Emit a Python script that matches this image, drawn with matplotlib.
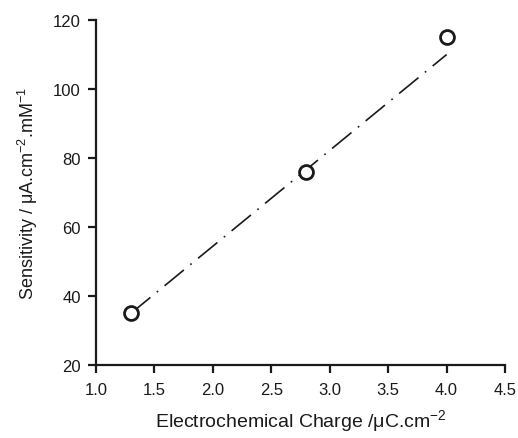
import matplotlib
matplotlib.use('Agg')
import matplotlib.pyplot as plt

plt.rcParams['font.family'] = ['Liberation Sans', 'DejaVu Sans']
plt.rcParams['mathtext.fontset'] = 'custom'
plt.rcParams['mathtext.rm'] = 'Liberation Sans'
plt.rcParams['mathtext.it'] = 'Liberation Sans:italic'

# measured points
charge = [1.3, 2.8, 4.0]
sensitivity = [35, 76, 115]

# linear fit line end points
fit_x = [1.3, 4.0]
fit_y = [35, 110]

x_ticks = [1.0, 1.5, 2.0, 2.5, 3.0, 3.5, 4.0, 4.5]
y_ticks = [20, 40, 60, 80, 100, 120]

ink = '#1a1a1a'

fig = plt.figure(figsize=(5.18, 4.39), dpi=100)
ax = fig.add_axes([0.1853, 0.1663, 0.7897, 0.7857])

ax.plot(fit_x, fit_y, color=ink, lw=1.2, dashes=(15, 5, 1, 5), zorder=2)
ax.plot(charge, sensitivity, 'o', ms=10, mfc='white', mec=ink, mew=2,
        linestyle='none', zorder=3)

ax.set_xlim(1.0, 4.5)
ax.set_ylim(20, 120)
ax.set_xticks(x_ticks)
ax.set_xticklabels([f'{t:.1f}' for t in x_ticks])
ax.set_yticks(y_ticks)

for s in ['top', 'right']:
    ax.spines[s].set_visible(False)
for s in ['left', 'bottom']:
    ax.spines[s].set_linewidth(1.6)
    ax.spines[s].set_color(ink)

ax.tick_params(direction='out', length=6, width=1.6, colors=ink,
               labelsize=12)
ax.tick_params(axis='x', pad=6.5)
ax.tick_params(axis='y', pad=5)

ax.set_xlabel('Electrochemical Charge /μC.cm$^{\\mathrm{-2}}$', fontsize=14,
              color=ink, labelpad=7)
ax.set_ylabel('Sensitivity / μA.cm$^{\\mathrm{-2}}$.mM$^{\\mathrm{-1}}$', fontsize=13,
              color=ink, labelpad=9)

fig.savefig('out.png', dpi=100)
